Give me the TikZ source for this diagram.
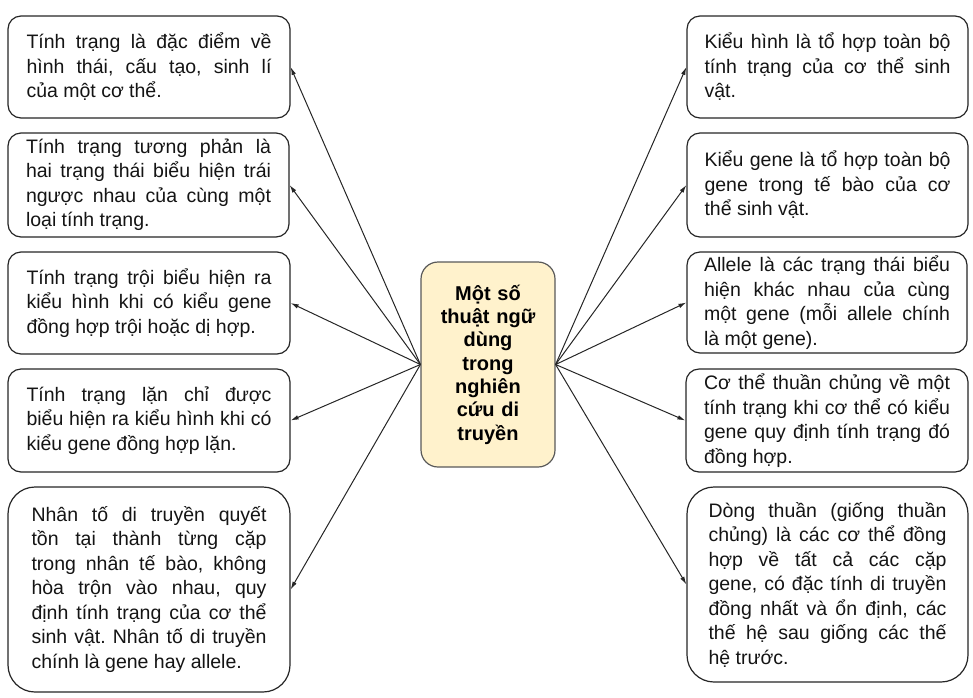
\documentclass[tikz,border=0pt]{standalone}
\usepackage{fontspec}
\setmainfont{Liberation Sans}
\usetikzlibrary{arrows.meta}
\definecolor{boxline}{HTML}{262626}
\definecolor{hubline}{HTML}{595959}
\definecolor{hubfill}{HTML}{FFF2CC}
\definecolor{linkc}{HTML}{262626}
\newcommand{\myspace}{\spaceskip=.2778em plus 2em minus .03em\relax\frenchspacing}
\newcommand{\plainspace}{\spaceskip=.2778em\relax\frenchspacing}
\newcommand{\jl}[1]{\makebox[\hsize][s]{\myspace #1}\\}
\tikzset{
  tbox/.style={draw=boxline, line width=1.2pt, rounded corners=13pt, fill=white,
    inner sep=0pt, align=left, text=black!92,
    font=\fontsize{19.5pt}{24.5pt}\selectfont,
    execute at begin node=\plainspace},
  lbox/.style={tbox, minimum width=282pt, text width=245pt},
  rbox/.style={tbox, minimum width=281pt, text width=246pt},
  hub/.style={draw=hubline, line width=1.2pt, fill=hubfill, rounded corners=17pt,
    inner sep=0pt, minimum width=134pt, minimum height=205pt, text width=134pt,
    align=center, font=\fontsize{20pt}{23.3pt}\selectfont\bfseries, text=black},
  link/.style={draw=linkc, line width=1pt, -{Latex[length=8pt,width=4.5pt]}}
}
\begin{document}
\begin{tikzpicture}[x=1pt,y=-1pt]
\useasboundingbox (0,0) rectangle (973,697);

\node[hub] (c) at (488,364.5) {Một số\\thuật ngữ\\dùng\\trong\\nghiên\\cứu di\\truyền};

% left column
\node[lbox, minimum height=102pt] (l1) at (149,67)
  {\jl{Tính trạng là đặc điểm về}\jl{hình thái, cấu tạo, sinh lí}của một cơ thể.};
\node[lbox, minimum height=104pt, minimum width=281pt] (l2) at (148.5,185)
  {\jl{Tính trạng tương phản là}\jl{hai trạng thái biểu hiện trái}\jl{ngược nhau của cùng một}loại tính trạng.};
\node[lbox, minimum height=102pt] (l3) at (149,303)
  {\jl{Tính trạng trội biểu hiện ra}\jl{kiểu hình khi có kiểu gene}đồng hợp trội hoặc dị hợp.};
\node[lbox, minimum height=103pt] (l4) at (149,420.5)
  {\jl{Tính trạng lặn chỉ được}\jl{biểu hiện ra kiểu hình khi có}kiểu gene đồng hợp lặn.};
\node[lbox, minimum height=205pt, text width=235pt, rounded corners=27pt] (l5) at (149,589.5)
  {\jl{Nhân tố di truyền quyết}\jl{tồn tại thành từng cặp}\jl{trong nhân tế bào, không}\jl{hòa trộn vào nhau, quy}\jl{định tính trạng của cơ thể}\jl{sinh vật. Nhân tố di truyền}chính là gene hay allele.};

% right column
\node[rbox, minimum height=102pt] (r1) at (827.5,67)
  {\jl{Kiểu hình là tổ hợp toàn bộ}\jl{tính trạng của cơ thể sinh}vật.};
\node[rbox, minimum height=104pt] (r2) at (827.5,185)
  {\jl{Kiểu gene là tổ hợp toàn bộ}\jl{gene trong tế bào của cơ}thể sinh vật.};
\node[rbox, minimum height=101pt, minimum width=280pt] (r3) at (827,302.5)
  {\jl{Allele là các trạng thái biểu}\jl{hiện khác nhau của cùng}\jl{một gene (mỗi allele chính}là một gene).};
\node[rbox, minimum height=103pt, minimum width=282pt] (r4) at (827,420.5)
  {\jl{Cơ thể thuần chủng về một}\jl{tính trạng khi cơ thể có kiểu}\jl{gene quy định tính trạng đó}đồng hợp.};
\node[rbox, minimum height=195pt, text width=238pt, rounded corners=27pt] (r5) at (827.5,584.5)
  {\jl{Dòng thuần (giống thuần}\jl{chủng) là các cơ thể đồng}\jl{hợp về tất cả các cặp}\jl{gene, có đặc tính di truyền}\jl{đồng nhất và ổn định, các}\jl{thế hệ sau giống các thế}hệ trước.};

% connectors
\foreach \n in {l1,l2,l3,l4,l5} \draw[link] (c.west) -- (\n.east);
\foreach \n in {r1,r2,r3,r4,r5} \draw[link] (c.east) -- (\n.west);
\end{tikzpicture}
\end{document}
